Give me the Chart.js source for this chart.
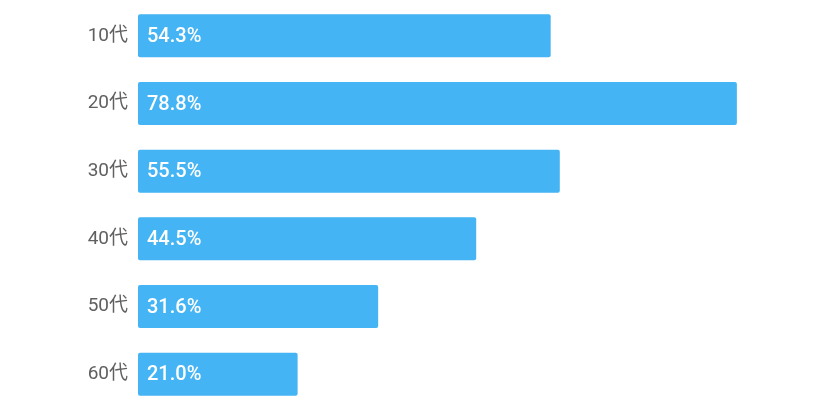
<!DOCTYPE html>
<html><head><meta charset="utf-8">
<script src="https://cdn.jsdelivr.net/npm/chart.js@4.4.0/dist/chart.umd.min.js"></script>
<style>html,body{margin:0;padding:0;background:#fff;overflow:hidden;}#wrap{width:830px;height:411px;position:relative;}</style>
</head><body><div id="wrap"><canvas id="c"></canvas></div>
<script>
const categories = ["10代","20代","30代","40代","50代","60代"];
const values = [54.3, 78.8, 55.5, 44.5, 31.6, 21.0];
const xMax = 80;

const valueLabels = {
  id: 'valueLabels',
  afterDatasetsDraw(chart) {
    const ctx = chart.ctx;
    const meta = chart.getDatasetMeta(0);
    ctx.save();
    ctx.fillStyle = '#ffffff';
    ctx.font = '500 20px Roboto, "Noto Sans CJK JP", sans-serif';
    ctx.textAlign = 'left';
    ctx.textBaseline = 'middle';
    meta.data.forEach((bar, i) => {
      ctx.fillText(values[i].toFixed(1) + '%', bar.base + 9, bar.y + 1);
    });
    ctx.restore();
  }
};

new Chart(document.getElementById('c'), {
  type: 'bar',
  data: {
    labels: categories,
    datasets: [{
      data: values,
      backgroundColor: '#44b4f4',
      borderRadius: 2,
      borderSkipped: false,
      categoryPercentage: 1,
      barPercentage: 0.635
    }]
  },
  options: {
    indexAxis: 'y',
    responsive: true,
    maintainAspectRatio: false,
    animation: false,
    layout: { padding: { top: 2, bottom: 3, left: 0, right: 84 } },
    plugins: { legend: { display: false }, tooltip: { enabled: false } },
    scales: {
      x: { display: false, min: 0, max: xMax },
      y: {
        grid: { display: false, drawTicks: false },
        border: { display: false },
        afterFit(scale) { scale.width = 138; scale.paddingTop = 0; scale.paddingBottom = 0; },
        ticks: {
          color: '#606060',
          padding: 10,
          font: { size: 19, family: 'Roboto, "Noto Sans CJK JP", sans-serif' }
        }
      }
    }
  },
  plugins: [valueLabels]
});
</script></body></html>
